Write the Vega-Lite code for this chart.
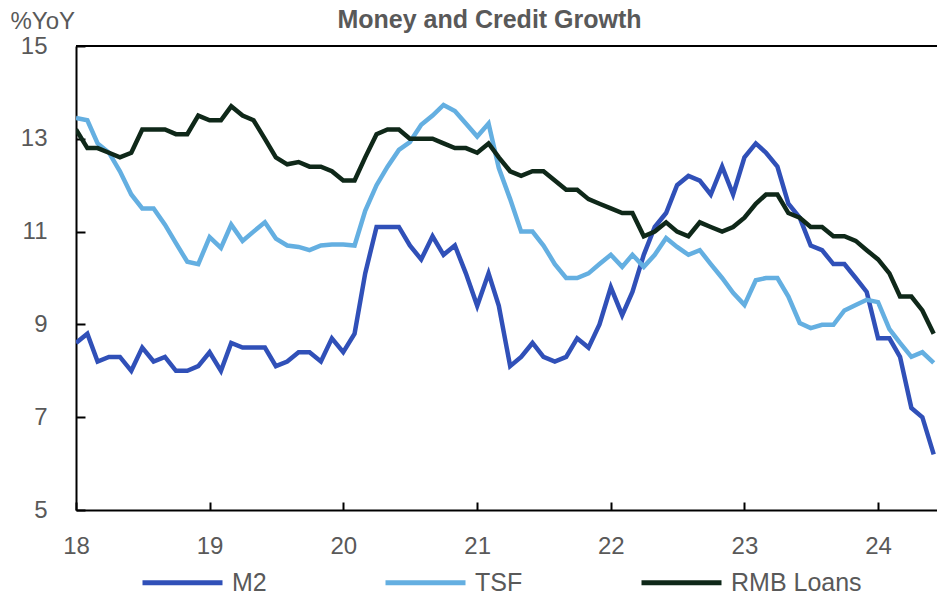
{
  "$schema": "https://vega.github.io/schema/vega-lite/v6.json",
  "width": 861,
  "height": 464,
  "autosize": {"type": "none"},
  "padding": {"left": 76, "top": 46, "right": 0, "bottom": 87},
  "background": "white",
  "title": {"text": "Money and Credit Growth", "fontSize": 25, "font": "Liberation Sans", "fontWeight": "bold", "color": "#595959", "anchor": "middle", "dx": -17, "dy": 36, "offset": 12},
  "config": {"view": {"stroke": null}, "font": "Liberation Sans"},
  "data": {"values": [
    {"date":"2018-01-01","series":"M2","value":8.6},{"date":"2018-02-01","series":"M2","value":8.8},{"date":"2018-03-01","series":"M2","value":8.2},{"date":"2018-04-01","series":"M2","value":8.3},{"date":"2018-05-01","series":"M2","value":8.3},{"date":"2018-06-01","series":"M2","value":8.0},{"date":"2018-07-01","series":"M2","value":8.5},{"date":"2018-08-01","series":"M2","value":8.2},{"date":"2018-09-01","series":"M2","value":8.3},{"date":"2018-10-01","series":"M2","value":8.0},{"date":"2018-11-01","series":"M2","value":8.0},{"date":"2018-12-01","series":"M2","value":8.1},
    {"date":"2019-01-01","series":"M2","value":8.4},{"date":"2019-02-01","series":"M2","value":8.0},{"date":"2019-03-01","series":"M2","value":8.6},{"date":"2019-04-01","series":"M2","value":8.5},{"date":"2019-05-01","series":"M2","value":8.5},{"date":"2019-06-01","series":"M2","value":8.5},{"date":"2019-07-01","series":"M2","value":8.1},{"date":"2019-08-01","series":"M2","value":8.2},{"date":"2019-09-01","series":"M2","value":8.4},{"date":"2019-10-01","series":"M2","value":8.4},{"date":"2019-11-01","series":"M2","value":8.2},{"date":"2019-12-01","series":"M2","value":8.7},
    {"date":"2020-01-01","series":"M2","value":8.4},{"date":"2020-02-01","series":"M2","value":8.8},{"date":"2020-03-01","series":"M2","value":10.1},{"date":"2020-04-01","series":"M2","value":11.1},{"date":"2020-05-01","series":"M2","value":11.1},{"date":"2020-06-01","series":"M2","value":11.1},{"date":"2020-07-01","series":"M2","value":10.7},{"date":"2020-08-01","series":"M2","value":10.4},{"date":"2020-09-01","series":"M2","value":10.9},{"date":"2020-10-01","series":"M2","value":10.5},{"date":"2020-11-01","series":"M2","value":10.7},{"date":"2020-12-01","series":"M2","value":10.1},
    {"date":"2021-01-01","series":"M2","value":9.4},{"date":"2021-02-01","series":"M2","value":10.1},{"date":"2021-03-01","series":"M2","value":9.4},{"date":"2021-04-01","series":"M2","value":8.1},{"date":"2021-05-01","series":"M2","value":8.3},{"date":"2021-06-01","series":"M2","value":8.6},{"date":"2021-07-01","series":"M2","value":8.3},{"date":"2021-08-01","series":"M2","value":8.2},{"date":"2021-09-01","series":"M2","value":8.3},{"date":"2021-10-01","series":"M2","value":8.7},{"date":"2021-11-01","series":"M2","value":8.5},{"date":"2021-12-01","series":"M2","value":9.0},
    {"date":"2022-01-01","series":"M2","value":9.8},{"date":"2022-02-01","series":"M2","value":9.2},{"date":"2022-03-01","series":"M2","value":9.7},{"date":"2022-04-01","series":"M2","value":10.5},{"date":"2022-05-01","series":"M2","value":11.1},{"date":"2022-06-01","series":"M2","value":11.4},{"date":"2022-07-01","series":"M2","value":12.0},{"date":"2022-08-01","series":"M2","value":12.2},{"date":"2022-09-01","series":"M2","value":12.1},{"date":"2022-10-01","series":"M2","value":11.8},{"date":"2022-11-01","series":"M2","value":12.4},{"date":"2022-12-01","series":"M2","value":11.8},
    {"date":"2023-01-01","series":"M2","value":12.6},{"date":"2023-02-01","series":"M2","value":12.9},{"date":"2023-03-01","series":"M2","value":12.7},{"date":"2023-04-01","series":"M2","value":12.4},{"date":"2023-05-01","series":"M2","value":11.6},{"date":"2023-06-01","series":"M2","value":11.3},{"date":"2023-07-01","series":"M2","value":10.7},{"date":"2023-08-01","series":"M2","value":10.6},{"date":"2023-09-01","series":"M2","value":10.3},{"date":"2023-10-01","series":"M2","value":10.3},{"date":"2023-11-01","series":"M2","value":10.0},{"date":"2023-12-01","series":"M2","value":9.7},
    {"date":"2024-01-01","series":"M2","value":8.7},{"date":"2024-02-01","series":"M2","value":8.7},{"date":"2024-03-01","series":"M2","value":8.3},{"date":"2024-04-01","series":"M2","value":7.2},{"date":"2024-05-01","series":"M2","value":7.0},{"date":"2024-06-01","series":"M2","value":6.2},
    {"date":"2018-01-01","series":"TSF","value":13.45},{"date":"2018-02-01","series":"TSF","value":13.4},{"date":"2018-03-01","series":"TSF","value":12.9},{"date":"2018-04-01","series":"TSF","value":12.7},{"date":"2018-05-01","series":"TSF","value":12.3},{"date":"2018-06-01","series":"TSF","value":11.8},{"date":"2018-07-01","series":"TSF","value":11.5},{"date":"2018-08-01","series":"TSF","value":11.5},{"date":"2018-09-01","series":"TSF","value":11.15},{"date":"2018-10-01","series":"TSF","value":10.75},{"date":"2018-11-01","series":"TSF","value":10.35},{"date":"2018-12-01","series":"TSF","value":10.3},
    {"date":"2019-01-01","series":"TSF","value":10.88},{"date":"2019-02-01","series":"TSF","value":10.65},{"date":"2019-03-01","series":"TSF","value":11.15},{"date":"2019-04-01","series":"TSF","value":10.8},{"date":"2019-05-01","series":"TSF","value":11.0},{"date":"2019-06-01","series":"TSF","value":11.2},{"date":"2019-07-01","series":"TSF","value":10.85},{"date":"2019-08-01","series":"TSF","value":10.7},{"date":"2019-09-01","series":"TSF","value":10.67},{"date":"2019-10-01","series":"TSF","value":10.6},{"date":"2019-11-01","series":"TSF","value":10.7},{"date":"2019-12-01","series":"TSF","value":10.72},
    {"date":"2020-01-01","series":"TSF","value":10.72},{"date":"2020-02-01","series":"TSF","value":10.7},{"date":"2020-03-01","series":"TSF","value":11.45},{"date":"2020-04-01","series":"TSF","value":12.0},{"date":"2020-05-01","series":"TSF","value":12.4},{"date":"2020-06-01","series":"TSF","value":12.76},{"date":"2020-07-01","series":"TSF","value":12.93},{"date":"2020-08-01","series":"TSF","value":13.3},{"date":"2020-09-01","series":"TSF","value":13.5},{"date":"2020-10-01","series":"TSF","value":13.73},{"date":"2020-11-01","series":"TSF","value":13.6},{"date":"2020-12-01","series":"TSF","value":13.33},
    {"date":"2021-01-01","series":"TSF","value":13.05},{"date":"2021-02-01","series":"TSF","value":13.33},{"date":"2021-03-01","series":"TSF","value":12.37},{"date":"2021-04-01","series":"TSF","value":11.7},{"date":"2021-05-01","series":"TSF","value":11.0},{"date":"2021-06-01","series":"TSF","value":11.0},{"date":"2021-07-01","series":"TSF","value":10.7},{"date":"2021-08-01","series":"TSF","value":10.3},{"date":"2021-09-01","series":"TSF","value":10.0},{"date":"2021-10-01","series":"TSF","value":10.0},{"date":"2021-11-01","series":"TSF","value":10.1},{"date":"2021-12-01","series":"TSF","value":10.3},
    {"date":"2022-01-01","series":"TSF","value":10.5},{"date":"2022-02-01","series":"TSF","value":10.24},{"date":"2022-03-01","series":"TSF","value":10.5},{"date":"2022-04-01","series":"TSF","value":10.24},{"date":"2022-05-01","series":"TSF","value":10.5},{"date":"2022-06-01","series":"TSF","value":10.86},{"date":"2022-07-01","series":"TSF","value":10.67},{"date":"2022-08-01","series":"TSF","value":10.5},{"date":"2022-09-01","series":"TSF","value":10.6},{"date":"2022-10-01","series":"TSF","value":10.3},{"date":"2022-11-01","series":"TSF","value":10.0},{"date":"2022-12-01","series":"TSF","value":9.68},
    {"date":"2023-01-01","series":"TSF","value":9.42},{"date":"2023-02-01","series":"TSF","value":9.95},{"date":"2023-03-01","series":"TSF","value":10.0},{"date":"2023-04-01","series":"TSF","value":10.0},{"date":"2023-05-01","series":"TSF","value":9.6},{"date":"2023-06-01","series":"TSF","value":9.03},{"date":"2023-07-01","series":"TSF","value":8.92},{"date":"2023-08-01","series":"TSF","value":8.99},{"date":"2023-09-01","series":"TSF","value":8.99},{"date":"2023-10-01","series":"TSF","value":9.3},{"date":"2023-11-01","series":"TSF","value":9.42},{"date":"2023-12-01","series":"TSF","value":9.53},
    {"date":"2024-01-01","series":"TSF","value":9.48},{"date":"2024-02-01","series":"TSF","value":8.9},{"date":"2024-03-01","series":"TSF","value":8.6},{"date":"2024-04-01","series":"TSF","value":8.3},{"date":"2024-05-01","series":"TSF","value":8.4},{"date":"2024-06-01","series":"TSF","value":8.17},
    {"date":"2018-01-01","series":"RMB Loans","value":13.2},{"date":"2018-02-01","series":"RMB Loans","value":12.8},{"date":"2018-03-01","series":"RMB Loans","value":12.8},{"date":"2018-04-01","series":"RMB Loans","value":12.7},{"date":"2018-05-01","series":"RMB Loans","value":12.6},{"date":"2018-06-01","series":"RMB Loans","value":12.7},{"date":"2018-07-01","series":"RMB Loans","value":13.2},{"date":"2018-08-01","series":"RMB Loans","value":13.2},{"date":"2018-09-01","series":"RMB Loans","value":13.2},{"date":"2018-10-01","series":"RMB Loans","value":13.1},{"date":"2018-11-01","series":"RMB Loans","value":13.1},{"date":"2018-12-01","series":"RMB Loans","value":13.5},
    {"date":"2019-01-01","series":"RMB Loans","value":13.4},{"date":"2019-02-01","series":"RMB Loans","value":13.4},{"date":"2019-03-01","series":"RMB Loans","value":13.7},{"date":"2019-04-01","series":"RMB Loans","value":13.5},{"date":"2019-05-01","series":"RMB Loans","value":13.4},{"date":"2019-06-01","series":"RMB Loans","value":13.0},{"date":"2019-07-01","series":"RMB Loans","value":12.6},{"date":"2019-08-01","series":"RMB Loans","value":12.45},{"date":"2019-09-01","series":"RMB Loans","value":12.5},{"date":"2019-10-01","series":"RMB Loans","value":12.4},{"date":"2019-11-01","series":"RMB Loans","value":12.4},{"date":"2019-12-01","series":"RMB Loans","value":12.3},
    {"date":"2020-01-01","series":"RMB Loans","value":12.1},{"date":"2020-02-01","series":"RMB Loans","value":12.1},{"date":"2020-03-01","series":"RMB Loans","value":12.6},{"date":"2020-04-01","series":"RMB Loans","value":13.1},{"date":"2020-05-01","series":"RMB Loans","value":13.2},{"date":"2020-06-01","series":"RMB Loans","value":13.2},{"date":"2020-07-01","series":"RMB Loans","value":13.0},{"date":"2020-08-01","series":"RMB Loans","value":13.0},{"date":"2020-09-01","series":"RMB Loans","value":13.0},{"date":"2020-10-01","series":"RMB Loans","value":12.9},{"date":"2020-11-01","series":"RMB Loans","value":12.8},{"date":"2020-12-01","series":"RMB Loans","value":12.8},
    {"date":"2021-01-01","series":"RMB Loans","value":12.7},{"date":"2021-02-01","series":"RMB Loans","value":12.9},{"date":"2021-03-01","series":"RMB Loans","value":12.6},{"date":"2021-04-01","series":"RMB Loans","value":12.3},{"date":"2021-05-01","series":"RMB Loans","value":12.2},{"date":"2021-06-01","series":"RMB Loans","value":12.3},{"date":"2021-07-01","series":"RMB Loans","value":12.3},{"date":"2021-08-01","series":"RMB Loans","value":12.1},{"date":"2021-09-01","series":"RMB Loans","value":11.9},{"date":"2021-10-01","series":"RMB Loans","value":11.9},{"date":"2021-11-01","series":"RMB Loans","value":11.7},{"date":"2021-12-01","series":"RMB Loans","value":11.6},
    {"date":"2022-01-01","series":"RMB Loans","value":11.5},{"date":"2022-02-01","series":"RMB Loans","value":11.4},{"date":"2022-03-01","series":"RMB Loans","value":11.4},{"date":"2022-04-01","series":"RMB Loans","value":10.9},{"date":"2022-05-01","series":"RMB Loans","value":11.0},{"date":"2022-06-01","series":"RMB Loans","value":11.2},{"date":"2022-07-01","series":"RMB Loans","value":11.0},{"date":"2022-08-01","series":"RMB Loans","value":10.9},{"date":"2022-09-01","series":"RMB Loans","value":11.2},{"date":"2022-10-01","series":"RMB Loans","value":11.1},{"date":"2022-11-01","series":"RMB Loans","value":11.0},{"date":"2022-12-01","series":"RMB Loans","value":11.1},
    {"date":"2023-01-01","series":"RMB Loans","value":11.3},{"date":"2023-02-01","series":"RMB Loans","value":11.6},{"date":"2023-03-01","series":"RMB Loans","value":11.8},{"date":"2023-04-01","series":"RMB Loans","value":11.8},{"date":"2023-05-01","series":"RMB Loans","value":11.4},{"date":"2023-06-01","series":"RMB Loans","value":11.3},{"date":"2023-07-01","series":"RMB Loans","value":11.1},{"date":"2023-08-01","series":"RMB Loans","value":11.1},{"date":"2023-09-01","series":"RMB Loans","value":10.9},{"date":"2023-10-01","series":"RMB Loans","value":10.9},{"date":"2023-11-01","series":"RMB Loans","value":10.8},{"date":"2023-12-01","series":"RMB Loans","value":10.6},
    {"date":"2024-01-01","series":"RMB Loans","value":10.4},{"date":"2024-02-01","series":"RMB Loans","value":10.1},{"date":"2024-03-01","series":"RMB Loans","value":9.6},{"date":"2024-04-01","series":"RMB Loans","value":9.6},{"date":"2024-05-01","series":"RMB Loans","value":9.3},{"date":"2024-06-01","series":"RMB Loans","value":8.8}
  ]},
  "layer": [
    {
      "mark": {"type": "line", "strokeWidth": 4.5, "clip": true},
      "encoding": {
        "x": {
          "field": "date", "type": "temporal",
          "scale": {"type": "utc", "domain": [{"year": 2018, "month": 1, "date": 1, "utc": true}, {"year": 2024, "month": 6, "date": 10, "utc": true}]},
          "axis": {
            "values": [{"year": 2018, "month": 1, "date": 1, "utc": true}, {"year": 2019, "month": 1, "date": 1, "utc": true}, {"year": 2020, "month": 1, "date": 1, "utc": true}, {"year": 2021, "month": 1, "date": 1, "utc": true}, {"year": 2022, "month": 1, "date": 1, "utc": true}, {"year": 2023, "month": 1, "date": 1, "utc": true}, {"year": 2024, "month": 1, "date": 1, "utc": true}],
            "format": "%y", "title": null, "grid": false,
            "domainColor": "black", "domainWidth": 2,
            "tickColor": "black", "tickWidth": 2, "tickSize": -8,
            "labelFontSize": 24, "labelColor": "#595959", "labelFont": "Liberation Sans",
            "labelPadding": 32, "labelDx": 5, "labelFlush": false
          }
        },
        "y": {
          "field": "value", "type": "quantitative",
          "scale": {"domain": [5, 15], "nice": false, "zero": false},
          "axis": {
            "values": [5, 7, 9, 11, 13, 15],
            "title": "%YoY", "titleAngle": 0, "titleAlign": "left", "titleBaseline": "top",
            "titleX": -66, "titleY": -37, "titleFontSize": 24, "titleFontWeight": "normal",
            "titleColor": "#595959", "titleFont": "Liberation Sans",
            "grid": false, "domainColor": "black", "domainWidth": 2,
            "tickColor": "black", "tickWidth": 2, "tickSize": -9,
            "labelFontSize": 24, "labelColor": "#595959", "labelFont": "Liberation Sans",
            "labelPadding": 38, "labelFlush": false
          }
        },
        "color": {
          "field": "series", "type": "nominal",
          "scale": {"domain": ["M2", "TSF", "RMB Loans"], "range": ["#3050B8", "#64AFE1", "#0F2819"]},
          "legend": {
            "orient": "none", "legendX": 64, "legendY": 494, "direction": "horizontal", "title": null,
            "symbolType": "stroke", "symbolStrokeWidth": 5, "symbolSize": 6400,
            "labelFontSize": 25, "labelColor": "#595959", "labelFont": "Liberation Sans",
            "labelOffset": 7, "columnPadding": 108
          }
        }
      }
    },
    {
      "mark": {"type": "rule", "color": "black", "strokeWidth": 2},
      "encoding": {"y": {"datum": 15}}
    }
  ]
}
